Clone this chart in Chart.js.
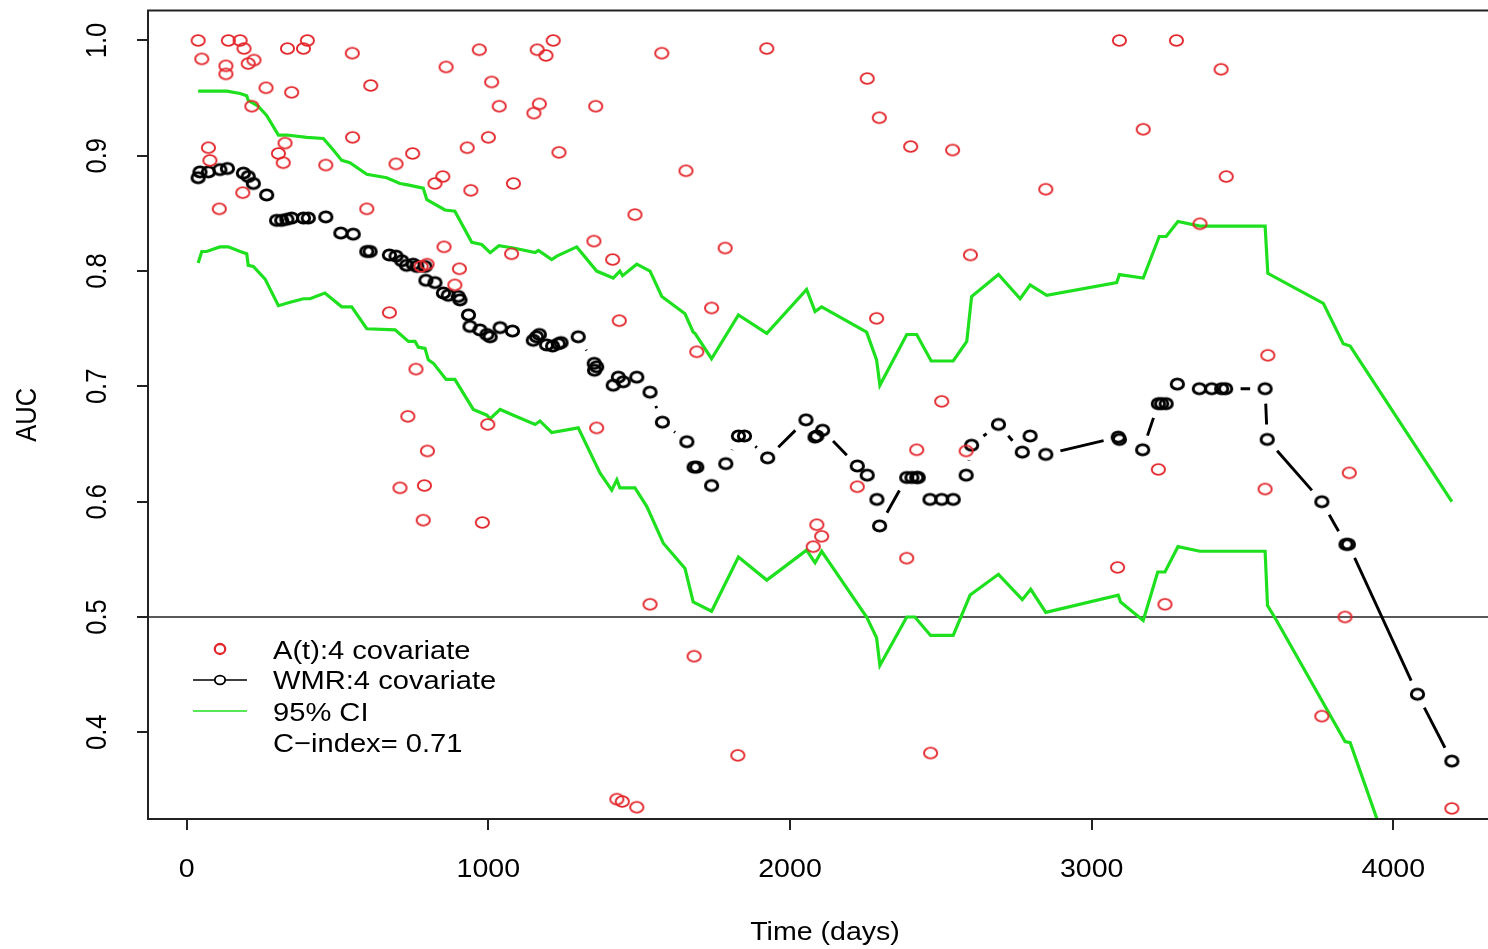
<!DOCTYPE html>
<html>
<head>
<meta charset="utf-8">
<script src="https://cdn.jsdelivr.net/npm/chart.js@4.4.1/dist/chart.umd.min.js"></script>
<style>
  html, body { margin: 0; padding: 0; background: #fff; overflow: hidden; }
  canvas { display: block; }
</style>
</head>
<body>
<canvas id="aucChart" width="1504" height="949"></canvas>
<script>
// A(t): 4 covariate (red circles)
const atTime = [38,50,138,130,130,177,190,204,223,263,216,334,387,400,348,549,610,860,970,1011,
  1036,1162,1191,1215,1169,1151,1356,1575,1923,550,1000,72,77,326,304,320,461,694,749,930,
  849,823,942,1083,186,108,597,853,904,889,1077,777,797,1234,1655,1486,1350,1412,1785,3092,
  3281,2256,2296,2400,2539,3171,2848,2598,3429,3446,3359,672,760,733,998,798,707,788,784,980,
  1434,1740,1691,2287,1359,2223,2089,2105,2077,2503,2420,2584,3221,2387,3086,3584,3854,3575,1536,1682,
  1827,1426,1444,1492,3243,2466,3840,3763,4194];
const atAuc = [1.000,0.984,1.000,0.978,0.971,1.000,0.993,0.980,0.983,0.959,0.943,0.993,0.993,1.000,0.955,0.989,0.961,0.977,0.992,0.964,
  0.943,0.992,0.987,1.000,0.945,0.937,0.943,0.989,0.993,0.916,0.916,0.907,0.896,0.911,0.902,0.894,0.892,0.893,0.902,0.907,
  0.882,0.876,0.870,0.876,0.868,0.854,0.854,0.821,0.802,0.788,0.815,0.804,0.806,0.903,0.887,0.849,0.826,0.810,0.820,1.000,
  1.000,0.967,0.933,0.908,0.905,0.923,0.871,0.814,0.975,0.882,0.841,0.764,0.715,0.674,0.667,0.644,0.612,0.614,0.584,0.582,
  0.757,0.768,0.730,0.759,0.664,0.613,0.580,0.570,0.561,0.687,0.645,0.644,0.628,0.551,0.543,0.727,0.625,0.611,0.511,0.466,
  0.380,0.342,0.340,0.335,0.511,0.382,0.500,0.414,0.334];

// WMR: 4 covariate (black circles joined by gapped line)
const wmrTime = [38,44,72,110,135,188,204,221,265,298,315,332,348,387,403,461,511,552,597,608,
  672,694,713,729,751,763,790,793,823,851,867,900,906,934,939,972,995,1006,1039,1080,
  1149,1160,1169,1193,1213,1232,1241,1298,1351,1352,1359,1414,1431,1447,1492,1536,1577,1658,1682,1691,
  1740,1787,1829,1849,1926,2053,2083,2089,2108,2223,2256,2288,2297,2387,2404,2420,2425,2464,2503,2541,
  2584,2602,2691,2770,2796,2848,3088,3092,3169,3221,3232,3247,3284,3357,3398,3431,3444,3575,3582,3763,
  3843,3851,4080,4194];
const wmrAuc = [0.881,0.886,0.886,0.888,0.889,0.885,0.882,0.876,0.866,0.844,0.844,0.845,0.846,0.846,0.846,0.847,0.833,0.832,0.817,0.817,
  0.814,0.813,0.809,0.805,0.806,0.804,0.804,0.792,0.790,0.781,0.779,0.778,0.775,0.762,0.752,0.749,0.745,0.743,0.751,0.748,
  0.740,0.743,0.745,0.736,0.735,0.737,0.738,0.743,0.720,0.714,0.717,0.701,0.708,0.704,0.708,0.695,0.669,0.652,0.630,0.630,
  0.614,0.633,0.657,0.657,0.638,0.671,0.656,0.657,0.662,0.631,0.623,0.602,0.579,0.621,0.621,0.621,0.621,0.602,0.602,0.602,
  0.623,0.649,0.667,0.643,0.657,0.641,0.656,0.654,0.645,0.685,0.685,0.685,0.702,0.698,0.698,0.698,0.698,0.698,0.654,0.600,
  0.563,0.563,0.433,0.375];

// 95% CI, upper and lower bounds
const ciUpTime = [38,133,177,199,204,237,265,304,332,398,453,486,514,541,597,663,707,729,784,796,
  856,889,945,978,1006,1035,1083,1155,1166,1210,1227,1293,1359,1414,1436,1445,1492,1536,1575,1652,
  1679,1685,1740,1829,1923,2055,2083,2105,2254,2287,2298,2387,2420,2468,2541,2586,2602,2691,2763,2796,
  2851,3083,3092,3171,3224,3247,3286,3359,3575,3584,3768,3834,3857,4194];
const ciUpAuc = [0.956,0.956,0.954,0.952,0.948,0.943,0.935,0.918,0.918,0.916,0.915,0.905,0.896,0.894,0.884,0.881,0.876,0.875,0.872,0.862,
  0.853,0.852,0.825,0.823,0.816,0.822,0.820,0.816,0.818,0.810,0.813,0.821,0.800,0.794,0.800,0.796,0.806,0.800,0.778,0.763,
  0.747,0.746,0.724,0.762,0.746,0.784,0.765,0.769,0.747,0.723,0.701,0.745,0.745,0.722,0.722,0.739,0.778,0.797,0.776,0.788,
  0.779,0.790,0.797,0.794,0.830,0.830,0.843,0.839,0.839,0.798,0.772,0.737,0.735,0.600];
const ciLoTime = [38,50,66,110,138,177,199,204,221,260,304,343,387,409,458,514,547,597,691,735,
  757,768,790,801,818,860,889,950,995,1006,1039,1083,1155,1171,1210,1298,1370,1409,1426,1436,
  1486,1525,1580,1652,1679,1740,1829,1923,2055,2083,2105,2254,2287,2298,2387,2414,2466,2541,2597,2691,
  2770,2798,2848,3088,3096,3171,3219,3243,3286,3359,3575,3583,3613,3840,3857,4194];
const ciLoAuc = [0.807,0.817,0.817,0.821,0.821,0.817,0.815,0.805,0.804,0.793,0.770,0.773,0.776,0.776,0.781,0.769,0.769,0.750,0.749,0.739,
  0.739,0.734,0.733,0.723,0.720,0.706,0.706,0.680,0.675,0.672,0.680,0.675,0.667,0.670,0.660,0.664,0.625,0.610,0.619,0.612,
  0.612,0.596,0.564,0.542,0.513,0.505,0.552,0.532,0.558,0.547,0.557,0.500,0.482,0.458,0.500,0.500,0.484,0.484,0.519,0.537,
  0.515,0.524,0.504,0.519,0.513,0.497,0.539,0.539,0.561,0.557,0.557,0.510,0.497,0.392,0.391,0.140];

const xTicks = [0, 1000, 2000, 3000, 4000];
const yTicks = [0.4, 0.5, 0.6, 0.7, 0.8, 0.9, 1.0];
const refLine = 0.5;
const legendLabels = ['A(t):4 covariate', 'WMR:4 covariate', '95% CI', 'C\u2212index= 0.71'];

// ---- styling ----
const RED = '#e3262b';
const GREEN = '#1fe01f';
const INK = '#222';
const FONT = '"Liberation Sans", Arial, Helvetica, sans-serif';
const SX = 1.12;  // the source picture is a bit wider than tall
const GAP = 15;   // R type="b" gap around each point

function ring(rx, ry, lw, color){
  const c = document.createElement('canvas');
  c.width = Math.ceil(2 * (rx + lw)) + 2;
  c.height = Math.ceil(2 * (ry + lw)) + 2;
  const g = c.getContext('2d');
  g.strokeStyle = color;
  g.lineWidth = lw;
  g.beginPath();
  g.ellipse(c.width / 2, c.height / 2, rx, ry, 0, 0, Math.PI * 2);
  g.stroke();
  return c;
}
const redRing = ring(6.6, 5.4, 1.9, RED);
const blackRing = ring(6.2, 5.1, 2.9, '#000');

const toXY = (xs, ys) => xs.map((x, i) => ({x, y: ys[i]}));

function text(ctx, str, x, y, o){
  ctx.save();
  ctx.translate(x, y);
  if (o.rotate) ctx.rotate(o.rotate);
  ctx.scale(o.sx || 1, o.sy || 1);
  ctx.font = o.font;
  ctx.fillStyle = o.color || '#000';
  ctx.textAlign = o.align || 'center';
  ctx.textBaseline = o.baseline || 'alphabetic';
  ctx.fillText(str, 0, 0);
  ctx.restore();
}

const frame = {
  id: 'frame',
  beforeDatasetsDraw(chart){
    const {ctx, chartArea: a, scales: {y}} = chart;
    const yy = y.getPixelForValue(refLine);
    ctx.save();
    ctx.strokeStyle = INK;
    ctx.lineWidth = 1.6;
    ctx.beginPath();
    ctx.moveTo(a.left, yy);
    ctx.lineTo(a.right, yy);
    ctx.stroke();
    ctx.restore();
  },
  afterDatasetDraw(chart, args){
    if (args.index !== 1) return;
    const pts = args.meta.data;
    const {ctx, chartArea: a} = chart;
    ctx.save();
    ctx.beginPath();
    ctx.rect(a.left, a.top, a.right - a.left, a.bottom - a.top);
    ctx.clip();
    ctx.strokeStyle = '#000';
    ctx.lineWidth = 2.9;
    for (let i = 1; i < pts.length; i++){
      const p = pts[i - 1], q = pts[i];
      const dx = q.x - p.x, dy = q.y - p.y, d = Math.hypot(dx, dy);
      if (d <= 2 * GAP) continue;
      const ux = dx / d, uy = dy / d;
      ctx.beginPath();
      ctx.moveTo(p.x + ux * GAP, p.y + uy * GAP);
      ctx.lineTo(q.x - ux * GAP, q.y - uy * GAP);
      ctx.stroke();
    }
    ctx.restore();
  },
  afterDraw(chart){
    const {ctx, chartArea: a, scales: {x, y}} = chart;
    ctx.save();
    ctx.strokeStyle = INK;
    ctx.lineWidth = 2;
    ctx.strokeRect(a.left, a.top, a.right - a.left, a.bottom - a.top);
    ctx.restore();

    const f = `25.5px ${FONT}`;
    xTicks.forEach(v => text(ctx, String(v), x.getPixelForValue(v), 877, {font: f, sx: SX}));
    yTicks.forEach(v => text(ctx, v.toFixed(1), 98, y.getPixelForValue(v),
      {font: f, rotate: -Math.PI / 2, sy: SX, baseline: 'middle'}));
    text(ctx, 'Time (days)', (a.left + a.right) / 2, 940, {font: f, sx: SX});
    text(ctx, 'AUC', 28, (a.top + a.bottom) / 2, {font: f, rotate: -Math.PI / 2, sy: SX, baseline: 'middle'});

    // legend
    const lx = 273, rows = [659, 689, 720.5, 752];
    legendLabels.forEach((s, i) => text(ctx, s, lx, rows[i], {font: `26px ${FONT}`, sx: SX, align: 'left'}));
    ctx.save();
    ctx.strokeStyle = RED;
    ctx.lineWidth = 2.3;
    ctx.beginPath();
    ctx.ellipse(220, 649, 5.2, 5, 0, 0, Math.PI * 2);
    ctx.stroke();
    ctx.strokeStyle = '#000';
    ctx.lineWidth = 1.4;
    ctx.beginPath();
    ctx.moveTo(193, 680); ctx.lineTo(214, 680);
    ctx.moveTo(226, 680); ctx.lineTo(247, 680);
    ctx.stroke();
    ctx.lineWidth = 1.9;
    ctx.beginPath();
    ctx.ellipse(220, 680, 5.2, 4.4, 0, 0, Math.PI * 2);
    ctx.stroke();
    ctx.strokeStyle = GREEN;
    ctx.lineWidth = 1.3;
    ctx.beginPath();
    ctx.moveTo(193, 711); ctx.lineTo(247, 711);
    ctx.stroke();
    ctx.restore();
  }
};

new Chart(document.getElementById('aucChart'), {
  type: 'scatter',
  data: {
    datasets: [
      {label: legendLabels[0], data: toXY(atTime, atAuc), pointStyle: redRing, pointRadius: 7, showLine: false},
      {label: legendLabels[1], data: toXY(wmrTime, wmrAuc), pointStyle: blackRing, pointRadius: 7, showLine: false},
      {label: 'upper', data: toXY(ciUpTime, ciUpAuc), showLine: true, pointRadius: 0, borderColor: GREEN, borderWidth: 3.2, tension: 0},
      {label: 'lower', data: toXY(ciLoTime, ciLoAuc), showLine: true, pointRadius: 0, borderColor: GREEN, borderWidth: 3.2, tension: 0}
    ]
  },
  options: {
    responsive: false,
    animation: false,
    events: [],
    devicePixelRatio: 1,
    layout: {autoPadding: false, padding: {top: 10.5, right: 2, bottom: 0, left: 0}},
    plugins: {legend: {display: false}, tooltip: {enabled: false}},
    scales: {
      x: {
        type: 'linear', min: -128.3, max: 4360.3,
        afterBuildTicks: s => { s.ticks = xTicks.map(v => ({value: v})); },
        afterFit: s => { s.height = 130; },
        ticks: {display: false},
        grid: {drawOnChartArea: false, drawTicks: true, tickLength: 11, color: INK, lineWidth: 2},
        border: {display: false}
      },
      y: {
        type: 'linear', min: 0.3248, max: 1.026,
        afterBuildTicks: s => { s.ticks = yTicks.map(v => ({value: v})); },
        afterFit: s => { s.width = 148; },
        ticks: {display: false},
        grid: {drawOnChartArea: false, drawTicks: true, tickLength: 11, color: INK, lineWidth: 2},
        border: {display: false}
      }
    }
  },
  plugins: [frame]
});
</script>
</body>
</html>
